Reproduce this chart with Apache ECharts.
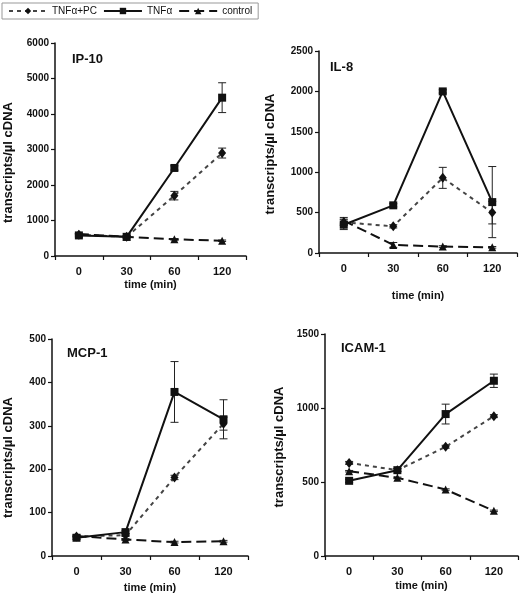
<!DOCTYPE html>
<html><head><meta charset="utf-8">
<script src="https://cdn.jsdelivr.net/npm/echarts@6/dist/echarts.min.js"></script>
<style>html,body{margin:0;padding:0;background:#fff}#c{width:525px;height:600px}</style>
</head><body><div id="c"></div>
<script>
const categories = ['0', '30', '60', '120'];
const seriesNames = ['TNFα+PC', 'TNFα', 'control'];
const panelTitles = ['IP-10', 'IL-8', 'MCP-1', 'ICAM-1'];
const yMax = [6000, 2500, 500, 1500];
const yInterval = [1000, 500, 100, 500];

const ip10_pc = [600, 540, 1700, 2900];
const ip10_pc_err = [30, 30, 120, 140];
const ip10_tnf = [580, 540, 2480, 4460];
const ip10_tnf_err = [40, 30, 60, 420];
const ip10_ctrl = [620, 540, 470, 430];
const ip10_ctrl_err = [20, 20, 20, 20];

const il8_pc = [380, 330, 930, 500];
const il8_pc_err = [40, 20, 130, 140];
const il8_tnf = [350, 590, 2000, 630];
const il8_tnf_err = [60, 20, 20, 440];
const il8_ctrl = [400, 100, 80, 70];
const il8_ctrl_err = [40, 30, 10, 10];

const mcp1_pc = [45, 48, 181, 305];
const mcp1_pc_err = [3, 3, 5, 15];
const mcp1_tnf = [42, 55, 378, 315];
const mcp1_tnf_err = [3, 3, 70, 45];
const mcp1_ctrl = [46, 38, 32, 34];
const mcp1_ctrl_err = [2, 2, 2, 2];

const icam1_pc = [629, 580, 738, 945];
const icam1_pc_err = [10, 10, 10, 10];
const icam1_tnf = [508, 580, 959, 1184];
const icam1_tnf_err = [10, 10, 67, 45];
const icam1_ctrl = [573, 528, 449, 305];
const icam1_ctrl_err = [5, 5, 5, 5];

const panels = [
  [[ip10_pc, ip10_pc_err], [ip10_tnf, ip10_tnf_err], [ip10_ctrl, ip10_ctrl_err]],
  [[il8_pc, il8_pc_err], [il8_tnf, il8_tnf_err], [il8_ctrl, il8_ctrl_err]],
  [[mcp1_pc, mcp1_pc_err], [mcp1_tnf, mcp1_tnf_err], [mcp1_ctrl, mcp1_ctrl_err]],
  [[icam1_pc, icam1_pc_err], [icam1_tnf, icam1_tnf_err], [icam1_ctrl, icam1_ctrl_err]]
];

const FONT = 'Liberation Sans, Arial, sans-serif';
const grids = [
  {left: 55, top: 43, width: 191, height: 213},
  {left: 319, top: 51, width: 198, height: 202},
  {left: 52, top: 339, width: 196, height: 217},
  {left: 325, top: 334, width: 193, height: 222}
];
const titlePos = [[72, 53], [330, 61], [67, 347], [341, 342]];
const xNameGap = [23, 37, 26, 24];
const yNameGap = [40, 42, 37, 39];
const yNamePad = [[0, 26, 0, 0], [0, 4, 0, 0], [0, 20, 0, 0], [0, 4, 0, 0]];
const styles = [
  {symbol: 'diamond', symbolSize: [8, 10], type: [4, 4], color: '#444'},
  {symbol: 'rect', symbolSize: 8, type: 'solid', color: '#111'},
  {symbol: 'triangle', symbolSize: 8, type: [10, 5], color: '#111'}
];

const series = [];
panels.forEach((p, gi) => {
  p.forEach((pair, si) => {
    const st = styles[si];
    series.push({
      name: seriesNames[si], type: 'line', xAxisIndex: gi, yAxisIndex: gi,
      data: pair[0], symbol: st.symbol, symbolSize: st.symbolSize,
      lineStyle: {color: st.color, width: 2, type: st.type},
      itemStyle: {color: '#111'}, z: 3
    });
    series.push({
      type: 'custom', xAxisIndex: gi, yAxisIndex: gi, z: 2, silent: true,
      data: pair[0].map((v, i) => [i, v - pair[1][i], v + pair[1][i]]),
      renderItem: function (params, api) {
        const lo = api.coord([api.value(0), api.value(1)]);
        const hi = api.coord([api.value(0), api.value(2)]);
        const w = 4;
        const s = {stroke: '#222', lineWidth: 1};
        return {type: 'group', children: [
          {type: 'line', shape: {x1: lo[0], y1: lo[1], x2: hi[0], y2: hi[1]}, style: s},
          {type: 'line', shape: {x1: lo[0] - w, y1: lo[1], x2: lo[0] + w, y2: lo[1]}, style: s},
          {type: 'line', shape: {x1: hi[0] - w, y1: hi[1], x2: hi[0] + w, y2: hi[1]}, style: s}
        ]};
      },
      encode: {x: 0, y: [1, 2]}
    });
  });
});

const axisLine = {show: true, lineStyle: {color: '#111', width: 1.5}};
const option = {
  backgroundColor: '#fff',
  animation: false,
  textStyle: {fontFamily: FONT},
  title: panelTitles.map((t, i) => ({
    text: t, left: titlePos[i][0], top: titlePos[i][1], padding: 0,
    textStyle: {fontFamily: FONT, fontWeight: 'bold', fontSize: 13, color: '#111'}
  })),
  legend: {
    data: seriesNames, left: 2, top: 3, padding: [3, 6, 3, 6],
    borderColor: '#999', borderWidth: 1, itemWidth: 38, itemHeight: 8, itemGap: 6,
    textStyle: {fontFamily: FONT, fontSize: 10, color: '#111'}
  },
  grid: grids,
  xAxis: grids.map((g, i) => ({
    type: 'category', gridIndex: i, data: categories, boundaryGap: true,
    name: 'time (min)', nameLocation: 'middle', nameGap: xNameGap[i],
    nameTextStyle: {fontFamily: FONT, fontWeight: 'bold', fontSize: 11, color: '#111'},
    axisLine: axisLine, axisTick: {show: true, length: 4, lineStyle: {color: '#111', width: 1.2}},
    axisLabel: {fontFamily: FONT, fontWeight: 'bold', fontSize: 11, color: '#111', margin: 10},
    splitLine: {show: false}
  })),
  yAxis: grids.map((g, i) => ({
    type: 'value', gridIndex: i, min: 0, max: yMax[i], interval: yInterval[i],
    name: 'transcripts/µl cDNA', nameLocation: 'middle', nameGap: yNameGap[i],
    nameTextStyle: {fontFamily: FONT, fontWeight: 'bold', fontSize: 13, color: '#111',
      padding: yNamePad[i]},
    axisLine: axisLine, axisTick: {show: true, length: 4, lineStyle: {color: '#111', width: 1.2}},
    axisLabel: {fontFamily: FONT, fontWeight: 'bold', fontSize: 10, color: '#111', margin: 6,
      formatter: v => String(v)},
    splitLine: {show: false}
  })),
  series: series
};
const chart = echarts.init(document.getElementById('c'), null, {renderer: 'canvas'});
chart.setOption(option);
</script></body></html>
